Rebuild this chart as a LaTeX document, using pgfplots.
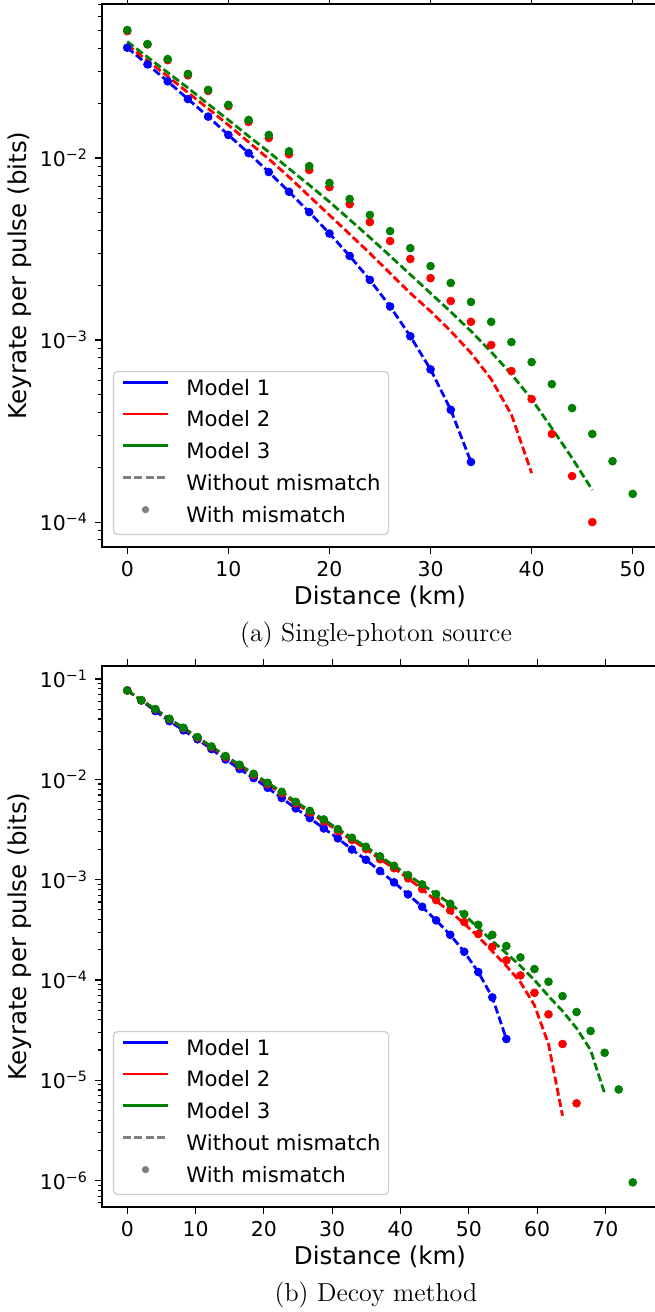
\documentclass[border=0pt]{standalone}
\usepackage{fontspec}
\usepackage{pgfplots}
\pgfplotsset{compat=1.18}
\newfontfamily\dejavu{DejaVu Sans}

\definecolor{mblue}{HTML}{0000FF}
\definecolor{mred}{HTML}{FF0000}
\definecolor{mgreen}{HTML}{008000}
\definecolor{mgray}{HTML}{808080}

\tikzset{
  dashline/.style={dash pattern=on 4pt off 1.7pt, line width=1.4pt},
  dots/.style={only marks, mark=*, mark size=1.95pt},
}

\pgfplotsset{
  keyrate/.style={
    scale only axis, width=278pt,
    axis line style={line width=0.7pt},
    tick align=outside,
    every tick/.style={black, line width=0.6pt},
    major tick length=3.5pt, minor tick length=2pt,
    tick label style={font=\dejavu\fontsize{10.2}{12}\selectfont},
    /pgf/number format/assume math mode=true,
    label style={font=\dejavu\fontsize{12.25}{14}\selectfont},
    xlabel={Distance (km)}, ylabel={Keyrate per pulse (bits)},
    xlabel style={at={(axis description cs:0.5,0)}, anchor=center, yshift=-25pt},
    ylabel style={at={(axis description cs:-0.1475,0.5)}, anchor=center},
    legend cell align=left,
    legend style={at={(0,0)}, anchor=south west, xshift=5.5pt, yshift=6pt,
      draw=black!20, rounded corners=2pt, line width=0.6pt,
      font=\dejavu\fontsize{10.6}{12}\selectfont,
      inner xsep=4pt, inner ysep=4pt, row sep=6pt,
      nodes={inner sep=0pt, text height=7.8pt, text depth=2pt},
      /tikz/every odd column/.append style={column sep=8.5pt}},
  },
}

\begin{document}
\begin{tikzpicture}

% (a) single-photon source
\begin{axis}[keyrate, ymode=log, name=top, at={(0,0)}, anchor=south west,
  height=271.5pt,
  xmin=-2.5, xmax=52.5, ymin=7.3e-5, ymax=0.0702,
  xtick={0,10,20,30,40,50},
  ytick={1e-4,1e-3,1e-2},
  yticklabels={10\textsuperscript{−4},10\textsuperscript{−3},10\textsuperscript{−2}},
  minor ytick={8e-5,9e-5,2e-4,3e-4,4e-4,5e-4,6e-4,7e-4,8e-4,9e-4,2e-3,3e-3,4e-3,5e-3,6e-3,7e-3,8e-3,9e-3,2e-2,3e-2,4e-2,5e-2,6e-2,7e-2},
  legend image code/.code={\draw[#1] (0pt,3.5pt) -- (22.5pt,3.5pt);},
]
\addlegendimage{mblue, line width=1.3pt}\addlegendentry{Model 1}
\addlegendimage{mred, line width=1.3pt}\addlegendentry{Model 2}
\addlegendimage{mgreen, line width=1.3pt}\addlegendentry{Model 3}
\addlegendimage{mgray, dashline}\addlegendentry{Without mismatch}
\addlegendimage{legend image code/.code={\fill[mgray] (11.25pt,3.5pt) circle (1.5pt);}}\addlegendentry{With mismatch}

% without mismatch
\addplot[forget plot, mblue, dashline] coordinates {
(0,0.0404) (2,0.0327) (4,0.0264) (6,0.0211) (8,0.0169) (10,0.0134) (12,0.01065) (14,0.00838) (16,0.00653) (18,0.00505)
(20,0.00385) (22,0.0029) (24,0.00214) (26,0.00153) (28,0.00105) (30,0.00069) (32,0.000414) (34,0.000214)};
\addplot[forget plot, mred, dashline] coordinates {
(0,0.0418) (2,0.0343) (4,0.0281) (6,0.0229) (8,0.0187) (10,0.0152) (12,0.01225) (14,0.00988) (16,0.00787) (18,0.00618)
(20,0.00486) (22,0.00382) (24,0.0030) (26,0.00233) (28,0.00181) (30,0.00144) (32,0.00112) (34,0.00085) (36,0.00061) (38,0.00039) (40,0.000186)};
\addplot[forget plot, mgreen, dashline] coordinates {
(0,0.0436) (2,0.0359) (4,0.0295) (6,0.0243) (8,0.0198) (10,0.0162) (12,0.0132) (14,0.0108) (16,0.00875) (18,0.00711)
(20,0.00575) (22,0.00459) (24,0.00366) (26,0.0029) (28,0.00229) (30,0.00181) (32,0.00143) (34,0.00112) (36,0.00086) (38,0.00065)
(40,0.000474) (42,0.000328) (44,0.000225) (46,0.00015)};

% with mismatch
\addplot[forget plot, mblue, dots] coordinates {
(0,0.0404) (2,0.0327) (4,0.0264) (6,0.0211) (8,0.0169) (10,0.0134) (12,0.01065) (14,0.00838) (16,0.00653) (18,0.00505)
(20,0.00385) (22,0.0029) (24,0.00214) (26,0.00153) (28,0.00105) (30,0.00069) (32,0.000414) (34,0.000214)};
\addplot[forget plot, mred, dots] coordinates {
(0,0.0498) (2,0.0421) (4,0.0345) (6,0.0285) (8,0.0234) (10,0.0193) (12,0.0158) (14,0.0129) (16,0.0105) (18,0.0086)
(20,0.00693) (22,0.00558) (24,0.00445) (26,0.0035) (28,0.00279) (30,0.00219) (32,0.00164) (34,0.00126) (36,0.00094) (38,0.000676)
(40,0.000474) (42,0.000305) (44,0.000179) (46,0.0001)};
\addplot[forget plot, mgreen, dots] coordinates {
(0,0.0505) (2,0.0423) (4,0.035) (6,0.029) (8,0.0237) (10,0.0196) (12,0.0162) (14,0.0134) (16,0.0109) (18,0.00903)
(20,0.0073) (22,0.00596) (24,0.00487) (26,0.00397) (28,0.0032) (30,0.00255) (32,0.00206) (34,0.00162) (36,0.00126) (38,0.000975)
(40,0.000757) (42,0.000573) (44,0.000423) (46,0.000305) (48,0.000216) (50,0.000143)};
\end{axis}

% (b) decoy method
\begin{axis}[keyrate, ymode=log, name=bot, at={(0,-59.5pt)}, anchor=north west,
  height=270.5pt,
  xmin=-3.7, xmax=77.7, ymin=5.45e-7, ymax=0.135,
  xtick={0,10,20,30,40,50,60,70},
  ytick={1e-6,1e-5,1e-4,1e-3,1e-2,1e-1},
  yticklabels={10\textsuperscript{−6},10\textsuperscript{−5},10\textsuperscript{−4},10\textsuperscript{−3},10\textsuperscript{−2},10\textsuperscript{−1}},
  minor ytick={6e-7,7e-7,8e-7,9e-7,2e-6,3e-6,4e-6,5e-6,6e-6,7e-6,8e-6,9e-6,2e-5,3e-5,4e-5,5e-5,6e-5,7e-5,8e-5,9e-5,
    2e-4,3e-4,4e-4,5e-4,6e-4,7e-4,8e-4,9e-4,2e-3,3e-3,4e-3,5e-3,6e-3,7e-3,8e-3,9e-3,2e-2,3e-2,4e-2,5e-2,6e-2,7e-2,8e-2,9e-2},
  legend image code/.code={\draw[#1] (0pt,3.5pt) -- (22.5pt,3.5pt);},
]
\addlegendimage{mblue, line width=1.3pt}\addlegendentry{Model 1}
\addlegendimage{mred, line width=1.3pt}\addlegendentry{Model 2}
\addlegendimage{mgreen, line width=1.3pt}\addlegendentry{Model 3}
\addlegendimage{mgray, dashline}\addlegendentry{Without mismatch}
\addlegendimage{legend image code/.code={\fill[mgray] (11.25pt,3.5pt) circle (1.5pt);}}\addlegendentry{With mismatch}

% without mismatch
\addplot[forget plot, mblue, dashline] coordinates {
(0,0.0771) (2.056,0.0611) (4.111,0.048) (6.167,0.0381) (8.222,0.0308) (10.278,0.0251) (12.333,0.02005) (14.389,0.0158)
(16.444,0.01268) (18.5,0.0103) (20.556,0.00824) (22.611,0.00651) (24.667,0.00514) (26.722,0.00411) (28.778,0.00324)
(30.833,0.00258) (32.889,0.002) (34.944,0.00158) (37,0.00122) (39.056,0.00094) (41.111,0.000713) (43.167,0.000537)
(45.222,0.000393) (47.278,0.000282) (49.333,0.000191) (51.389,0.00012) (53.444,6.71e-5) (55.5,2.58e-5)};
\addplot[forget plot, mred, dashline] coordinates {
(0,0.0771) (2.056,0.0616) (4.111,0.0499) (6.167,0.0398) (8.222,0.0323) (10.278,0.026) (12.333,0.02094) (14.389,0.0167)
(16.444,0.01365) (18.5,0.01106) (20.556,0.00897) (22.611,0.00726) (24.667,0.00577) (26.722,0.00467) (28.778,0.00382)
(30.833,0.00305) (32.889,0.00249) (34.944,0.00202) (37,0.0016) (39.056,0.0013) (41.111,0.00103) (43.167,0.000806)
(45.222,0.000612) (47.278,0.00048) (49.333,0.000365) (51.389,0.00027) (53.444,0.000193) (55.5,0.000138)
(57.556,9.5e-5) (59.611,5.6e-5) (61.667,2.3e-5) (63.722,4.43e-6)};
\addplot[forget plot, mgreen, dashline] coordinates {
(0,0.0771) (2.056,0.0617) (4.111,0.0502) (6.167,0.0402) (8.222,0.0327) (10.278,0.0264) (12.333,0.0213) (14.389,0.0171)
(16.444,0.01399) (18.5,0.01138) (20.556,0.00925) (22.611,0.00752) (24.667,0.00598) (26.722,0.00486) (28.778,0.00399)
(30.833,0.00319) (32.889,0.00262) (34.944,0.00213) (37,0.001706) (39.056,0.001376) (41.111,0.001112) (43.167,0.000898)
(45.222,0.000718) (47.278,0.000575) (49.333,0.000448) (51.389,0.00033) (53.444,0.000245) (55.5,0.000185)
(57.556,0.000138) (59.611,0.0001) (61.667,6.9e-5) (63.722,4.9e-5) (65.778,3.3e-5) (67.833,2.0e-5) (69.889,7.4e-6)};

% with mismatch
\addplot[forget plot, mblue, dots] coordinates {
(0,0.0771) (2.056,0.0611) (4.111,0.048) (6.167,0.0381) (8.222,0.0308) (10.278,0.0251) (12.333,0.02005) (14.389,0.0158)
(16.444,0.01268) (18.5,0.0103) (20.556,0.00824) (22.611,0.00651) (24.667,0.00514) (26.722,0.00411) (28.778,0.00324)
(30.833,0.00258) (32.889,0.002) (34.944,0.00158) (37,0.00122) (39.056,0.00094) (41.111,0.000713) (43.167,0.000537)
(45.222,0.000393) (47.278,0.000282) (49.333,0.000191) (51.389,0.00012) (53.444,6.71e-5) (55.5,2.58e-5)};
\addplot[forget plot, mred, dots] coordinates {
(0,0.0771) (2.056,0.0616) (4.111,0.0499) (6.167,0.0398) (8.222,0.0323) (10.278,0.026) (12.333,0.02094) (14.389,0.0167)
(16.444,0.01365) (18.5,0.01106) (20.556,0.00897) (22.611,0.00726) (24.667,0.00577) (26.722,0.00467) (28.778,0.00382)
(30.833,0.00305) (32.889,0.00249) (34.944,0.00202) (37,0.0016) (39.056,0.0013) (41.111,0.00103) (43.167,0.000806)
(45.222,0.000626) (47.278,0.000494) (49.333,0.000378) (51.389,0.000287) (53.444,0.000214) (55.5,0.000157)
(57.556,0.000111) (59.611,7.45e-5) (61.667,4.54e-5) (63.722,2.3e-5) (65.778,5.89e-6)};
\addplot[forget plot, mgreen, dots] coordinates {
(0,0.0771) (2.056,0.0617) (4.111,0.0502) (6.167,0.0402) (8.222,0.0327) (10.278,0.0264) (12.333,0.0213) (14.389,0.0171)
(16.444,0.01399) (18.5,0.01138) (20.556,0.00925) (22.611,0.00752) (24.667,0.00598) (26.722,0.00486) (28.778,0.00399)
(30.833,0.00319) (32.889,0.00262) (34.944,0.00213) (37,0.001706) (39.056,0.001376) (41.111,0.001112) (43.167,0.000898)
(45.222,0.000718) (47.278,0.000575) (49.333,0.000454) (51.389,0.000355) (53.444,0.000282) (55.5,0.000218)
(57.556,0.000168) (59.611,0.0001285) (61.667,9.6e-5) (63.722,6.9e-5) (65.778,4.79e-5) (67.833,3.1e-5)
(69.889,1.88e-5) (71.944,8.1e-6) (74,9.6e-7)};
\end{axis}

\node[font=\fontsize{13}{15}\selectfont] at ([xshift=-2pt,yshift=-44pt]top.south) {(a) Single-photon source};
\node[font=\fontsize{13}{15}\selectfont] at ([xshift=-2pt,yshift=-44pt]bot.south) {(b) Decoy method};

\pgfresetboundingbox
\path[use as bounding box] (-51pt,273.5pt) rectangle (276pt,-382.5pt);
\end{tikzpicture}
\end{document}
